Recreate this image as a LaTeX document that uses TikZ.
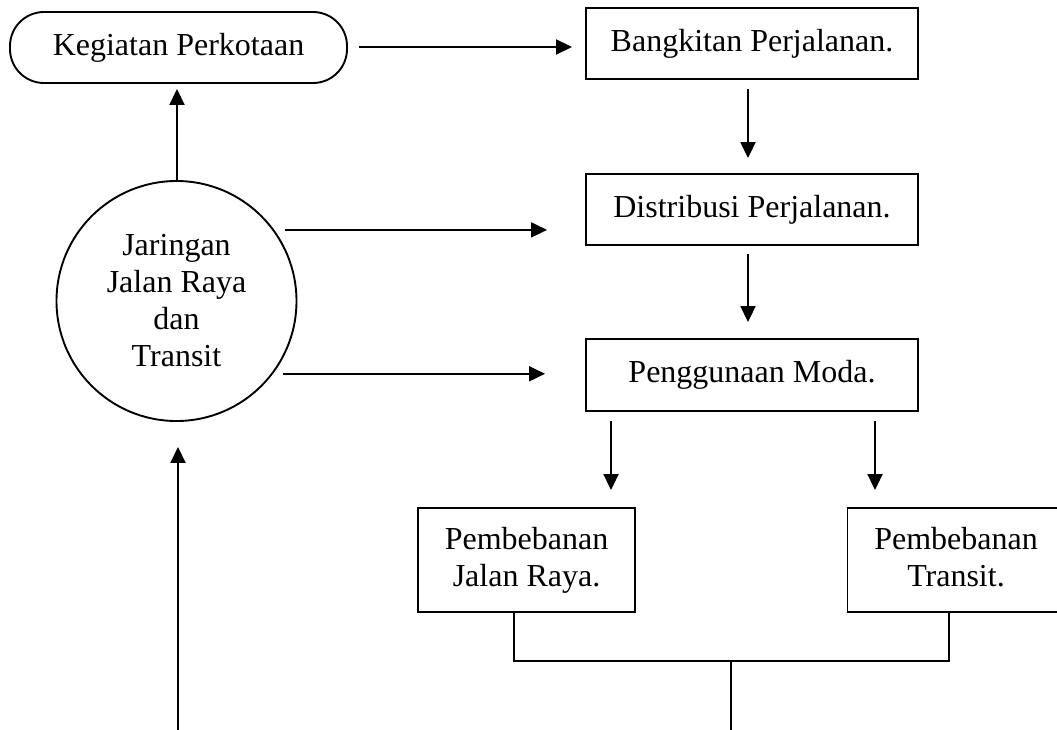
\documentclass[tikz,border=0pt]{standalone}
\usepackage{fontspec}
\setmainfont{Liberation Serif}
\usetikzlibrary{arrows.meta}
\begin{document}
\begin{tikzpicture}[x=1pt,y=-1pt,
  every node/.style={font=\fontsize{32}{37}\selectfont, inner sep=0pt, align=center},
  stepbox/.style={draw, line width=1.9pt, minimum width=332pt, minimum height=71pt},
  loadbox/.style={draw, line width=1.9pt, minimum width=217pt, minimum height=104pt},
  arr/.style={line width=1.9pt, -{Triangle[length=16pt,width=15pt]}},
  ln/.style={line width=1.9pt}]
\useasboundingbox (0,0) rectangle (1057,729);
\fill[white] (0,0) rectangle (1057,729);

\node[draw, line width=1.9pt, rounded corners=34pt, minimum width=337pt, minimum height=71pt] (keg) at (178.5,47.5) {Kegiatan Perkotaan};
\node[stepbox] (bang) at (752,43.5) {Bangkitan Perjalanan.};
\node[stepbox] (dis) at (752,209.5) {Distribusi Perjalanan.};
\node[stepbox, minimum height=72pt] (pen) at (752,375) {Penggunaan Moda.};
\node[draw, circle, line width=1.9pt, minimum size=240pt] (jar) at (176.5,301) {Jaringan\\Jalan Raya\\dan\\Transit};
\node[loadbox] (jr) at (526.5,560) {Pembebanan\\Jalan Raya.};
\node[loadbox] (tr) at (956,560) {Pembebanan\\Transit.\vphantom{y}};

\coordinate (junc) at (731,661);
\coordinate (botmid) at (731,735);
\coordinate (botleft) at (178,735);

% arrows
\draw[arr, shorten <=11pt, shorten >=13pt] ([yshift=0.5pt]keg.east) -- ([yshift=0.5pt]keg.east -| bang.west);
\draw[arr, shorten <=9pt, shorten >=15pt] ([xshift=-4pt]bang.south) -- ([xshift=-4pt]dis.north);
\draw[arr, shorten <=8pt, shorten >=16pt] ([xshift=-4pt]dis.south) -- ([xshift=-4pt]pen.north);
\draw[arr, shorten >=5pt] ([xshift=0.5pt]jar.north) -- ([xshift=0.5pt]jar.north |- keg.south);
\draw[arr, shorten <=11pt, shorten >=38pt] (jar.36) -- (jar.36 -| dis.west);
\draw[arr, shorten <=10pt, shorten >=40pt] (jar.-37) -- (jar.-37 -| pen.west);
\draw[arr, shorten <=9pt, shorten >=17pt] ([xshift=-141pt]pen.south) -- ([xshift=-141pt]pen.south |- jr.north);
\draw[arr, shorten <=9pt, shorten >=17pt] ([xshift=123pt]pen.south) -- ([xshift=123pt]pen.south |- tr.north);
\draw[arr, shorten >=25pt] (botleft) -- (botleft |- jar.south);

% merge lines
\draw[ln] ([xshift=-12.5pt]jr.south) |- (junc);
\draw[ln] ([xshift=-7pt]tr.south) |- (junc);
\draw[ln] (junc) -- (botmid);
\end{tikzpicture}
\end{document}
